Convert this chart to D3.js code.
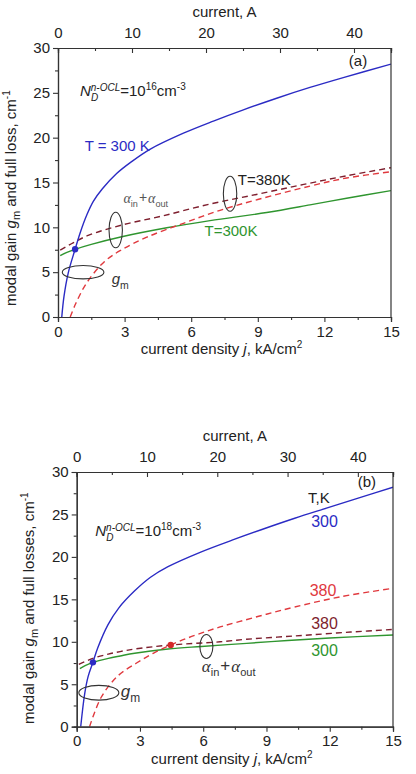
<!DOCTYPE html>
<html><head><meta charset="utf-8">
<script src="https://cdn.jsdelivr.net/npm/d3@7"></script>
<style>body{margin:0;background:#fff}svg{display:block;font-family:"Liberation Sans",Arial,sans-serif}</style>
</head><body><svg id="chart" width="416" height="774"></svg>
<script>
// axis ticks
const jTicks=[0,3,6,9,12,15], jMinor=[1.5,4.5,7.5,10.5,13.5];
const ampTicks=[0,10,20,30,40], ampMinor=[5,15,25,35,45];
const gTicks=[0,5,10,15,20,25,30], gMinor=[2.5,7.5,12.5,17.5,22.5,27.5];

// panel (a): N_D = 1e16
const gainA300=[[0.17,0],[0.27,2.3],[0.46,4.9],[0.77,7.55],[1.0,9.4],[1.3,11.4],[1.59,12.9],[2.0,14.3],[2.64,16.0],[3.3,17.3],[4.14,18.7],[5.65,20.5],[7.0,21.85],[8.35,23.1],[9.85,24.4],[11.35,25.6],[12.85,26.7],[15,28.2]];
const gainA380=[[0.55,0],[0.8,1.5],[1.29,3.8],[2.1,6.2],[2.87,7.5],[4,8.9],[5.65,10.45],[7.3,11.9],[9,13.1],[11.35,14.6],[13,15.5],[15,16.2]];
const lossA300=[[0.1,6.85],[0.4,7.2],[0.77,7.55],[1.5,8.1],[2.87,8.95],[4.9,9.95],[6.85,10.75],[9.4,11.65],[11.35,12.5],[13,13.25],[15,14.1]];
const lossA380=[[0.1,7.45],[0.7,8.3],[1.36,9.1],[2.87,10.25],[4.67,11.25],[6.85,12.6],[9,13.7],[11,14.75],[13,15.75],[15,16.65]];
const dotsA=[[0.77,7.55,"#2b2bc4"]];

// panel (b): N_D = 1e18
const gainB300=[[0.19,0],[0.38,3.9],[0.54,5.9],[0.77,7.58],[1.0,9.3],[1.48,12.0],[2.0,14.0],[2.75,16.0],[3.5,17.6],[4.33,18.85],[5.91,20.6],[7.4,22.0],[8.75,23.2],[10.34,24.55],[11.92,25.8],[13.5,27.05],[15,28.2]];
const gainB380=[[0.61,0],[1.17,3.5],[1.96,6.0],[2.84,7.5],[3.63,8.65],[4.46,9.62],[5.21,10.4],[6.0,11.1],[6.8,11.75],[7.74,12.4],[9,13.25],[10.34,14.1],[12.5,15.3],[15,16.3]];
const lossB300=[[0.15,6.85],[0.4,7.2],[0.77,7.58],[1.5,8.05],[2.06,8.33],[2.75,8.65],[4.33,9.15],[5.91,9.45],[8.06,9.82],[10,10.15],[12,10.45],[15,10.8]];
const lossB380=[[0.1,7.35],[0.77,8.05],[1.5,8.55],[2.06,8.85],[2.75,9.15],[4.46,9.62],[6.8,10.0],[8.06,10.3],[9.5,10.55],[11,10.8],[13,11.15],[15,11.45]];
const dotsB=[[0.77,7.58,"#2b2bc4"],[4.46,9.62,"#d42a2a"]];

const C={blue:"#2b2bc4",green:"#2f952f",red:"#e0393e",maroon:"#7e1f2e"};
const svg=d3.select("#chart");

// text with sub/superscript runs
function rich(g,x,y,parts,size,fill,extra){
  const t=g.append("text").attr("x",x).attr("y",y).attr("font-size",size).attr("fill",fill||"#222");
  if(extra) extra(t);
  let prev=0;
  parts.forEach(p=>{
    const o=typeof p==="string"?{t:p}:p;
    const off=o.off||0;
    const s=t.append("tspan").text(o.t).attr("dy",off-prev);
    if(o.size) s.attr("font-size",o.size);
    if(o.italic) s.attr("font-style","italic");
    if(o.serif) s.attr("font-family","'Liberation Serif','DejaVu Serif',serif");
    if(o.dx) s.attr("dx",o.dx);
    prev=off;
  });
  return t;
}

function panel(cfg){
  const g=svg.append("g");
  const x=d3.scaleLinear().domain([0,15]).range([cfg.l,cfg.r]);
  const xa=d3.scaleLinear().domain([0,45]).range([cfg.l,cfg.r]);
  const y=d3.scaleLinear().domain([0,30]).range([cfg.b,cfg.t]);

  const clipId="clip"+cfg.id;
  g.append("clipPath").attr("id",clipId).append("rect")
    .attr("x",cfg.l).attr("y",cfg.t).attr("width",cfg.r-cfg.l).attr("height",cfg.b-cfg.t);

  const line=d3.line().x(d=>x(d[0])).y(d=>y(d[1])).curve(d3.curveCatmullRom.alpha(0.5));
  const lines=g.append("g").attr("clip-path",`url(#${clipId})`);
  cfg.series.forEach(s=>{
    lines.append("path").attr("d",line(s.data)).attr("fill","none")
      .attr("stroke",s.color).attr("stroke-width",1.4)
      .attr("stroke-dasharray",s.dash?"6,4":null);
  });
  lines.selectAll("circle").data(cfg.dots).enter().append("circle")
    .attr("cx",d=>x(d[0])).attr("cy",d=>y(d[1])).attr("r",3.2).attr("fill",d=>d[2]);

  // axes
  const styleAxis=sel=>{
    sel.select(".domain").attr("stroke","#333").attr("stroke-width",1.2);
    sel.selectAll(".tick line").attr("stroke","#333").attr("stroke-width",1.1);
    sel.selectAll("text").attr("font-size",15).attr("fill","#222").attr("font-family","'Liberation Sans',Arial,sans-serif");
  };
  g.append("g").attr("transform",`translate(0,${cfg.b})`)
    .call(d3.axisBottom(x).tickValues(jTicks).tickSize(5).tickPadding(4).tickFormat(d3.format("d")))
    .call(styleAxis);
  g.append("g").attr("transform",`translate(0,${cfg.b})`)
    .call(d3.axisBottom(x).tickValues(jMinor).tickSize(3).tickFormat(""))
    .call(styleAxis);
  g.append("g").attr("transform",`translate(${cfg.l},0)`)
    .call(d3.axisLeft(y).tickValues(gTicks).tickSize(5).tickPadding(3).tickFormat(d3.format("d")))
    .call(styleAxis);
  g.append("g").attr("transform",`translate(${cfg.l},0)`)
    .call(d3.axisLeft(y).tickValues(gMinor).tickSize(3).tickFormat(""))
    .call(styleAxis);
  g.append("g").attr("transform",`translate(0,${cfg.t})`)
    .call(d3.axisTop(xa).tickValues(ampTicks).tickSize(-5).tickPadding(10).tickFormat(d3.format("d")))
    .call(styleAxis);
  g.append("g").attr("transform",`translate(0,${cfg.t})`)
    .call(d3.axisTop(xa).tickValues(ampMinor).tickSize(-3).tickFormat(""))
    .call(styleAxis);
  g.append("line").attr("x1",cfg.r).attr("x2",cfg.r).attr("y1",cfg.t).attr("y2",cfg.b)
    .attr("stroke","#333").attr("stroke-width",1.2);

  // axis titles
  g.append("text").attr("x",(cfg.l+cfg.r)/2).attr("y",cfg.t-31).attr("text-anchor","middle")
    .attr("font-size",15).attr("fill","#222").text("current, A");
  rich(g,(cfg.l+cfg.r)/2-3,cfg.b+37,["current density ",{t:"j",italic:true},", kA/cm",{t:"2",size:10,off:-6}],15,"#222",
    t=>t.attr("text-anchor","middle"));
  rich(g,0,0,["modal gain ",{t:"g",italic:true},{t:"m",size:11,off:4},{t:cfg.yTitle,off:0},{t:"-1",size:10,off:-6}],15,"#222",
    t=>t.attr("transform",`translate(${cfg.yTitleX},${cfg.yTitleY}) rotate(-90)`));

  // panel tag and doping label
  g.append("text").attr("x",x(cfg.tag[0])).attr("y",y(cfg.tag[1])).attr("font-size",15).attr("fill","#222").text(cfg.tag[2]);
  const nx=x(cfg.nd[0]), ny=y(cfg.nd[1]);
  rich(g,nx,ny,[{t:"N",italic:true},{t:"n-OCL",size:10,italic:true,off:-5},{t:"=10",off:0},{t:cfg.nd[2],size:10,off:-6},{t:"cm",off:0},{t:"-3",size:10,off:-6}],15,"#222");
  g.append("text").attr("x",nx+11).attr("y",ny+5).attr("font-size",10).attr("font-style","italic").attr("fill","#222").text("D");

  // ellipses
  g.selectAll("ellipse").data(cfg.ellipses).enter().append("ellipse")
    .attr("cx",d=>x(d[0])).attr("cy",d=>y(d[1])).attr("rx",d=>d[2]).attr("ry",d=>d[3])
    .attr("fill","none").attr("stroke","#333").attr("stroke-width",1.1);

  // plain labels
  cfg.labels.forEach(d=>{
    g.append("text").attr("x",x(d[0])).attr("y",y(d[1])).attr("font-size",d[4]||15)
      .attr("fill",d[3]).text(d[2]);
  });
  // alpha and g_m labels
  const a=cfg.alpha;
  rich(g,x(a[0]),y(a[1]),[{t:"α",italic:true,serif:true},{t:"in",size:a[2]*0.65,off:4},{t:"+",off:-1,dx:1},{t:"α",italic:true,serif:true,off:0,dx:1},{t:"out",size:a[2]*0.65,off:4}],a[2],a[3]);
  const gm=cfg.gm;
  rich(g,x(gm[0]),y(gm[1]),[{t:"g",italic:true},{t:"m",size:gm[2]*0.7,off:5}],gm[2],"#333");
}

panel({
  id:"a",l:58,r:391,t:48,b:317,yTitle:" and full loss, cm",yTitleX:16,yTitleY:306,
  series:[
    {data:lossA300,color:C.green},
    {data:lossA380,color:C.maroon,dash:true},
    {data:gainA380,color:C.red,dash:true},
    {data:gainA300,color:C.blue}
  ],
  dots:dotsA,
  tag:[13.1,28.0,"(a)"],
  nd:[0.99,24.7,"16"],
  ellipses:[[2.6,9.7,6.7,17.8],[1.13,5.0,20.8,6.7],[7.75,13.75,6.7,17.5]],
  labels:[[1.2,18.5,"T = 300 K",C.blue],[8.1,14.75,"T=380K","#222"],[6.6,9.0,"T=300K",C.green]],
  alpha:[2.95,12.7,14,"#555"],
  gm:[2.42,3.7,15]
});

panel({
  id:"b",l:76.7,r:393,t:472,b:726.7,yTitle:" and full losses, cm",yTitleX:34,yTitleY:724,
  series:[
    {data:lossB300,color:C.green},
    {data:lossB380,color:C.maroon,dash:true},
    {data:gainB380,color:C.red,dash:true},
    {data:gainB300,color:C.blue}
  ],
  dots:dotsB,
  tag:[13.33,28.2,"(b)"],
  nd:[0.88,22.5,"18"],
  ellipses:[[6.15,9.45,6.5,12],[1.05,4.0,20,7.4]],
  labels:[[10.97,26.4,"T,K","#222"],[11.12,23.5,"300",C.blue,16],[11.05,15.4,"380",C.red,16],
          [11.12,11.45,"380",C.maroon,16],[11.12,8.3,"300",C.green,16]],
  alpha:[5.93,6.4,17,"#333"],
  gm:[2.09,3.5,17]
});
</script></body></html>
